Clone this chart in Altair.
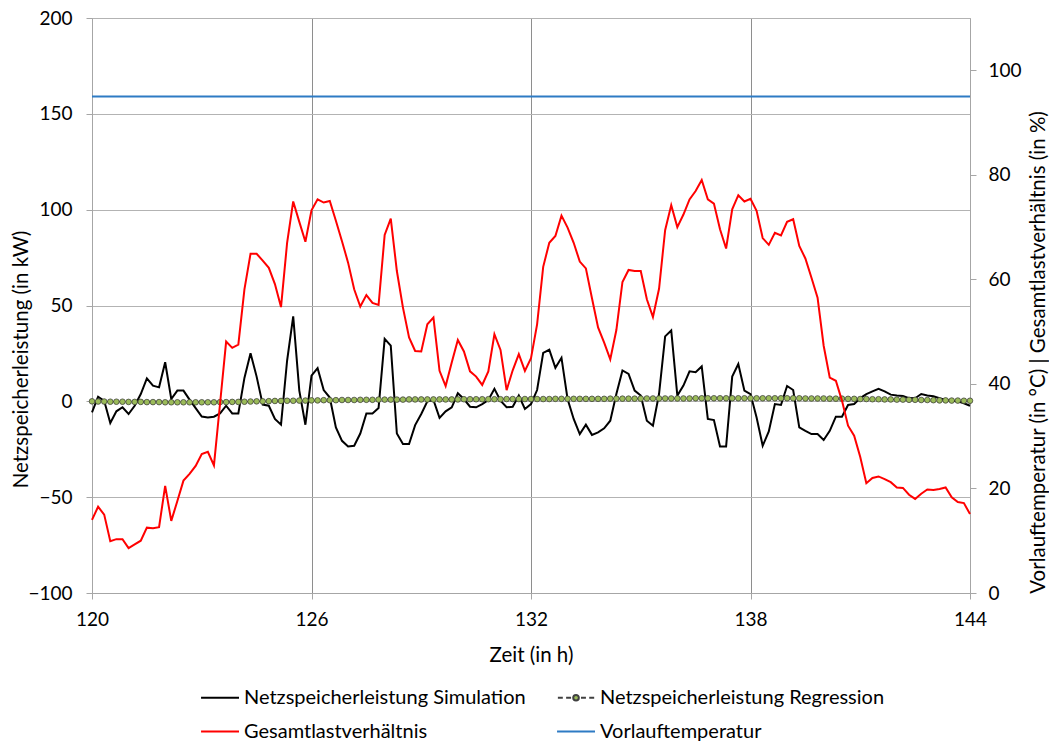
import altair as alt
import pandas as pd

# ---------------- data ----------------
hours = [120 + i / 6 for i in range(145)]  # 10-minute steps, 120 h .. 144 h

sim = [
    -5.8, 2.4, 0.3, -11.3, -5.2, -3.1, -6.6, -2.3, 3.8, 12.0, 8.2, 7.3,
    20.4, 1.2, 5.6, 5.6, 0.9, -3.5, -7.9, -8.4, -8.0, -6.3, -2.3, -6.3,
    -6.3, 12.2, 25.1, 12.9, -1.7, -2.3, -9.2, -12.2, 21.3, 44.3, 5.6, -12.2,
    13.4, 17.3, 5.9, 2.0, -13.6, -20.6, -23.6, -23.2, -16.8, -6.3, -6.3, -3.5,
    32.6, 29.1, -16.8, -22.3, -22.3, -12.4, -6.6, 0.0, 0.7, -8.6, -5.2, -3.1,
    4.2, 1.2, -2.8, -3.1, -1.4, 0.7, 6.5, 0.3, -3.1, -2.8, 3.0, -4.0,
    -1.4, 5.9, 25.3, 26.9, 17.5, 22.7, 1.2, -9.2, -17.1, -12.2, -17.5, -16.2,
    -14.1, -10.1, 3.8, 16.1, 14.3, 5.6, 3.0, -10.1, -12.7, 3.8, 33.9, 37.0,
    3.0, 8.2, 15.7, 15.2, 18.2, -9.2, -9.8, -23.6, -23.6, 12.9, 19.5, 5.6,
    3.8, -8.4, -23.2, -15.7, -1.4, -1.9, 8.0, 5.9, -13.6, -15.4, -17.1, -17.1,
    -20.2, -15.4, -8.0, -8.0, -1.9, -1.4, 1.7, 3.8, 5.2, 6.5, 5.2, 3.5,
    3.0, 2.8, 1.7, 1.6, 3.8, 3.0, 2.6, 1.6, 0.7, 0.3, 0.0, -1.0, -2.3,
]

reg = [
    0.0, -0.1, -0.1, -0.2, -0.2, -0.2, -0.3, -0.3, -0.3, -0.4, -0.4, -0.4,
    -0.5, -0.5, -0.5, -0.5, -0.5, -0.5, -0.5, -0.5, -0.5, -0.4, -0.4, -0.3,
    -0.3, -0.2, -0.1, 0.0, 0.0, 0.1, 0.2, 0.2, 0.3, 0.3, 0.4, 0.4,
    0.5, 0.5, 0.6, 0.6, 0.6, 0.7, 0.7, 0.7, 0.8, 0.8, 0.8, 0.9,
    0.9, 0.9, 0.9, 0.9, 1.0, 1.0, 1.0, 1.0, 1.0, 1.0, 1.0, 1.0,
    1.0, 1.1, 1.1, 1.1, 1.1, 1.1, 1.1, 1.1, 1.2, 1.2, 1.2, 1.2,
    1.2, 1.2, 1.2, 1.2, 1.3, 1.3, 1.3, 1.3, 1.3, 1.3, 1.3, 1.3,
    1.3, 1.4, 1.4, 1.4, 1.4, 1.4, 1.4, 1.5, 1.5, 1.5, 1.5, 1.5,
    1.5, 1.5, 1.5, 1.6, 1.6, 1.6, 1.6, 1.6, 1.6, 1.6, 1.6, 1.6,
    1.6, 1.6, 1.6, 1.6, 1.6, 1.6, 1.6, 1.6, 1.6, 1.5, 1.5, 1.5,
    1.5, 1.4, 1.4, 1.4, 1.3, 1.3, 1.2, 1.2, 1.1, 1.1, 1.0, 1.0,
    0.9, 0.9, 0.8, 0.8, 0.7, 0.7, 0.6, 0.5, 0.5, 0.4, 0.4, 0.3, 0.3,
]

ratio = [
    14.0, 16.5, 15.0, 9.9, 10.3, 10.3, 8.6, 9.3, 10.0, 12.5, 12.4, 12.6,
    20.5, 13.8, 17.6, 21.5, 22.8, 24.3, 26.6, 27.0, 24.4, 36.2, 48.1, 46.9,
    47.5, 58.1, 64.9, 64.9, 63.6, 62.2, 59.1, 54.7, 67.0, 74.9, 71.0, 67.2,
    73.2, 75.3, 74.7, 75.0, 71.2, 67.3, 63.2, 58.1, 54.8, 57.0, 55.5, 55.1,
    68.5, 71.6, 61.6, 54.6, 48.9, 46.3, 46.2, 51.4, 52.7, 42.5, 39.6, 44.1,
    48.4, 46.2, 42.4, 41.4, 39.8, 42.4, 49.5, 46.5, 38.8, 42.6, 45.7, 42.5,
    44.9, 51.4, 62.4, 67.0, 68.3, 72.2, 69.9, 67.0, 63.4, 62.1, 56.4, 50.8,
    47.9, 44.7, 50.3, 59.5, 61.8, 61.6, 61.6, 56.2, 52.8, 58.2, 69.4, 74.2,
    70.0, 72.4, 75.3, 76.9, 79.0, 75.3, 74.5, 69.6, 65.9, 73.4, 76.1, 74.9,
    75.4, 73.1, 67.9, 66.6, 68.9, 68.4, 71.0, 71.5, 66.4, 64.0, 60.3, 56.5,
    47.3, 41.2, 40.6, 36.8, 32.0, 30.1, 26.0, 21.0, 22.0, 22.3, 21.8, 21.2,
    20.2, 20.1, 18.8, 18.0, 19.0, 19.8, 19.7, 19.9, 20.2, 18.3, 17.4, 17.2, 15.1,
]

vl_hours = [120, 144]
vl_temp = [95.0, 95.0]

# legend order (filled column by column: col 1 = first two entries)
series = [
    "Netzspeicherleistung Simulation",
    "Gesamtlastverhältnis",
    "Netzspeicherleistung Regression",
    "Vorlauftemperatur",
]
x_ticks = [120, 126, 132, 138, 144]
left_ticks = [-100, -50, 0, 50, 100, 150, 200]
right_ticks = [0, 20, 40, 60, 80, 100]

assert len(sim) == len(reg) == len(ratio) == len(hours) == 145

# ---------------- styling ----------------
FONT = "Lato"
FS = 19
TITLE_FS = 20.5
LEG_FS = 20
C_SIM = "#000000"
C_REG = "#404040"
C_RATIO = "#FF0000"
C_TEMP = "#2E7BC4"
GREEN = "#9BBB59"
GRID_H = "#B3B3B3"
GRID_V = "#8E8E8E"
AXIS_C = "#A6A6A6"

legend_colors = [C_SIM, C_RATIO, C_REG, C_TEMP]
legend_fills = ["transparent", "transparent", GREEN, "transparent"]
line_path = "M-1.3,0H1"
reg_path = ("M-1.25,0H-0.95M-0.75,0H-0.45M0.15,0H0.45M0.65,0H0.95"
            "M0.02,0A0.17,0.17,0,1,1,-0.32,0A0.17,0.17,0,1,1,0.02,0Z")
legend_shapes = [line_path, line_path, reg_path, line_path]

df_main = pd.DataFrame({"t": hours, "sim": sim, "reg": reg, "ratio": ratio})
df_temp = pd.DataFrame({"t": vl_hours, "temp": vl_temp})
df_leg = pd.DataFrame({"series": series, "t": [120.0] * 4, "v": [0.0] * 4})

x_axis = alt.Axis(
    values=x_ticks, title="Zeit (in h)", grid=True, gridColor=GRID_V, gridWidth=1,
    domainColor=AXIS_C, tickColor=AXIS_C, tickSize=6, labelPadding=11,
    labelFlush=False, labelOverlap=False,
    titleX=439, titleY=62, titleAlign="center", titleBaseline="middle",
    format="d",
)
x_enc = alt.X("t:Q", scale=alt.Scale(domain=[120, 144], nice=False, zero=False), axis=x_axis)

left_axis = alt.Axis(
    values=left_ticks, title="Netzspeicherleistung (in kW)", grid=True,
    gridColor=GRID_H, gridWidth=1, domainColor=AXIS_C, tickColor=AXIS_C,
    tickSize=6, labelPadding=14, labelFlush=False, titleAngle=270, titleX=-71, titleY=341,
    titleAlign="center", titleBaseline="middle",
)
left_scale = alt.Scale(domain=[-100, 200], nice=False, zero=False)

right_axis = alt.Axis(
    orient="right", values=right_ticks,
    title="Vorlauftemperatur (in °C) | Gesamtlastverhältnis (in %)",
    grid=False, domainColor=AXIS_C, tickColor=AXIS_C, tickSize=6,
    labelPadding=12, labelFlush=False, titleAngle=270, titleX=68, titleY=334,
    titleAlign="center", titleBaseline="middle",
)
right_scale = alt.Scale(domain=[0, 110], nice=False, zero=False)

legend = alt.Legend(
    title=None, orient="none", legendX=113, legendY=662, columns=2,
    columnPadding=27, rowPadding=6, symbolSize=1089, symbolStrokeWidth=2,
    symbolOpacity=1, labelFont=FONT, labelFontSize=LEG_FS, labelColor="#000000",
    labelOffset=4, labelLimit=500,
)

base = alt.Chart(df_main)

sim_line = base.mark_line(color=C_SIM, strokeWidth=2).encode(
    x=x_enc, y=alt.Y("sim:Q", scale=left_scale, axis=left_axis)
)
reg_line = base.mark_line(color=C_REG, strokeWidth=1, strokeDash=[3, 2]).encode(
    x=x_enc, y=alt.Y("reg:Q", scale=left_scale, axis=left_axis)
)
reg_pts = base.mark_circle(size=32, fill=GREEN, stroke="#333333", strokeWidth=0.7, opacity=1).encode(
    x=x_enc, y=alt.Y("reg:Q", scale=left_scale, axis=left_axis)
)
leg_layer = alt.Chart(df_leg).mark_point(opacity=0, filled=False).encode(
    x=x_enc,
    y=alt.Y("v:Q", scale=left_scale, axis=left_axis),
    color=alt.Color("series:N", scale=alt.Scale(domain=series, range=legend_colors), legend=legend),
    shape=alt.Shape("series:N", scale=alt.Scale(domain=series, range=legend_shapes), legend=legend),
    fill=alt.Fill("series:N", scale=alt.Scale(domain=series, range=legend_fills), legend=legend),
)

left = alt.layer(sim_line, reg_line, reg_pts, leg_layer)

ratio_line = base.mark_line(color=C_RATIO, strokeWidth=2).encode(
    x=x_enc, y=alt.Y("ratio:Q", scale=right_scale, axis=right_axis)
)
temp_line = alt.Chart(df_temp).mark_line(color=C_TEMP, strokeWidth=2).encode(
    x=x_enc, y=alt.Y("temp:Q", scale=right_scale, axis=right_axis)
)
right = alt.layer(ratio_line, temp_line)

chart = (
    alt.layer(left, right)
    .resolve_scale(y="independent")
    .properties(
        width=878, height=575,
        autosize=alt.AutoSizeParams(type="none"),
        padding={"left": 92, "top": 18, "right": 79, "bottom": 149},
    )
    .configure_view(strokeWidth=0)
    .configure_axis(
        labelFont=FONT, titleFont=FONT, labelFontSize=FS, titleFontSize=TITLE_FS,
        labelColor="#000000", titleColor="#000000", titleFontWeight="normal",
    )
)

chart.save("out.html", embed_options={"renderer": "svg", "actions": False})
